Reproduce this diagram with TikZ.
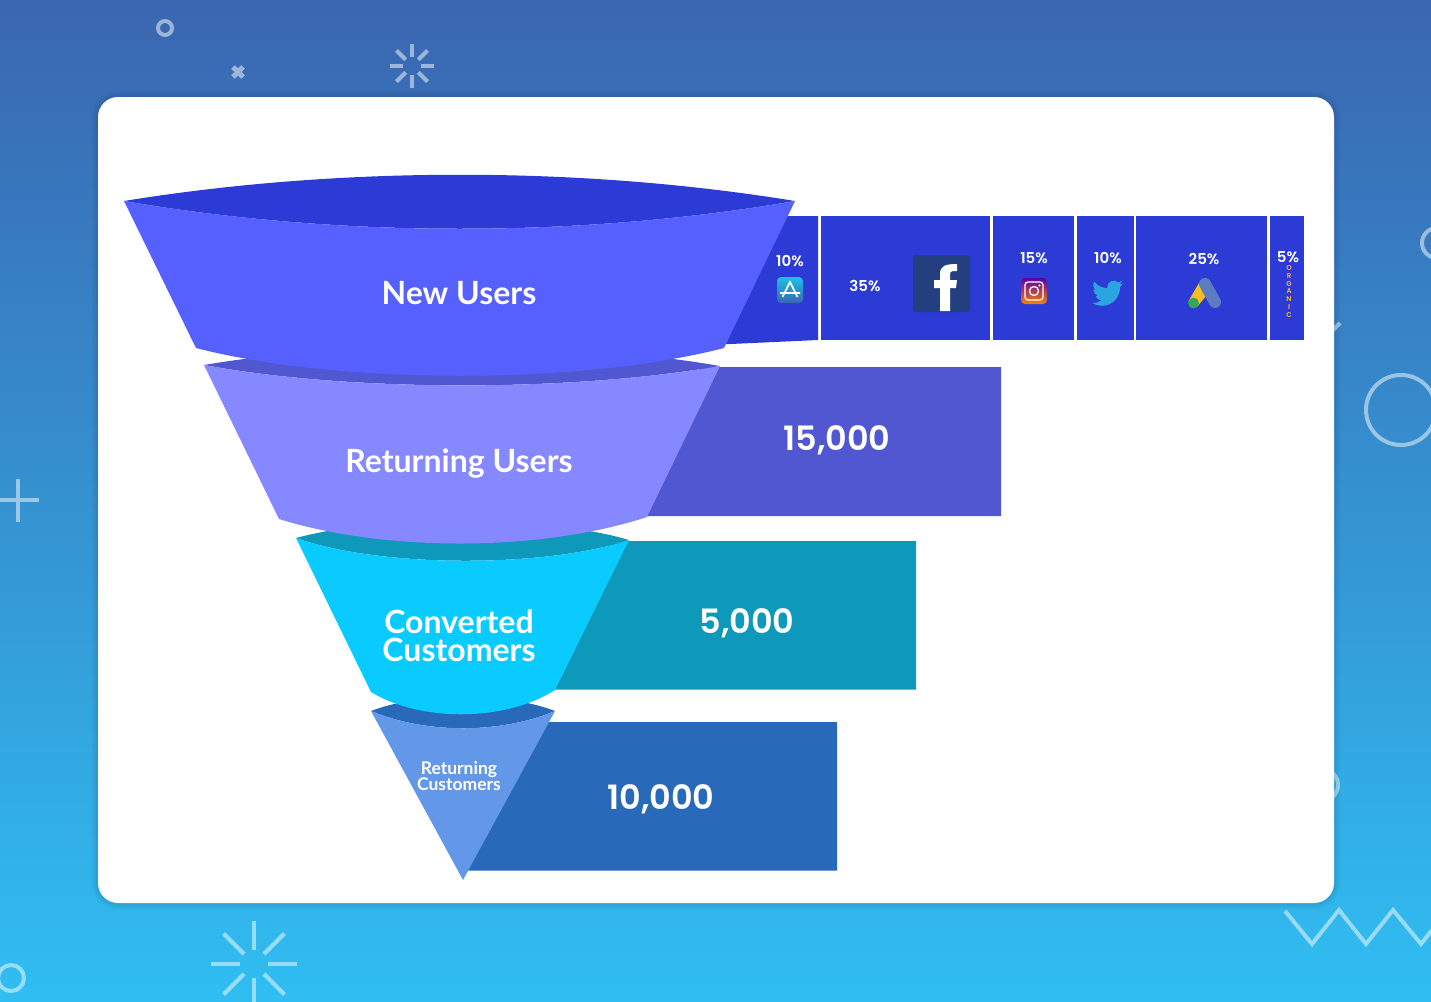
\documentclass[tikz,border=0pt]{standalone}
\usepackage{fontspec}
\setmainfont{Lato}
\newfontfamily\numfont{Poppins SemiBold}
\usetikzlibrary{positioning}
\definecolor{bgtop}{HTML}{3A66B0}
\definecolor{bgbottom}{HTML}{30BEF2}
\definecolor{newdark}{HTML}{2C3BD6}
\definecolor{newfill}{HTML}{5560FF}
\definecolor{retdark}{HTML}{5157D0}
\definecolor{retfill}{HTML}{8688FF}
\definecolor{condark}{HTML}{0E98BA}
\definecolor{confill}{HTML}{0ACBFF}
\definecolor{cusdark}{HTML}{2869BA}
\definecolor{cusfill}{HTML}{6398E8}
\definecolor{fbblue}{HTML}{233F80}
\definecolor{twblue}{HTML}{2AA5E0}
\definecolor{adsblue}{HTML}{5B7DBF}
\definecolor{adsyellow}{HTML}{FBBC1F}
\definecolor{adsgreen}{HTML}{34A853}
\definecolor{orglabel}{HTML}{FFB52E}
\tikzset{
	deco/.style={draw=white, opacity=.5, line width=#1},
	funnellabel/.style={text=white, align=center, font=\bfseries\fontsize{#1}{#1}\selectfont},
	barnum/.style={text=white, font=\numfont\fontsize{33.5}{33.5}\selectfont},
	pct/.style={text=white, font=\numfont\fontsize{15}{15}\selectfont}
}
\begin{document}
\begin{tikzpicture}[x=1pt,y=-1pt]
\useasboundingbox (0,0) rectangle (1431,1001);
\clip (0,0) rectangle (1431,1001);
\shade[top color=bgtop, bottom color=bgbottom] (0,0) rectangle (1431,1001);
% background marks
\draw[deco=4] (165,28) circle (7);
\draw[deco=5] (233,67) -- (243,77) (243,67) -- (233,77);
\foreach \a in {0,45,...,315} {
	\draw[deco=4] (412,66) ++(\a:9) -- ++(\a:13);
	\draw[deco=4] (254,964) ++(\a:14) -- ++(\a:29);
}
\draw[deco=4] (1437,243) circle (15);
\draw[deco=4] (1401,410) circle (35);
\draw[deco=4] (1331,332) -- (1340,323);
\draw[deco=4] (0,500) -- (39,500) (18,479) -- (18,522);
\draw[deco=4] (1322,785) circle (16);
\draw[deco=4] (11,978) circle (13);
\draw[deco=4] (1285,911) -- (1312,944) -- (1339,910) -- (1366,944) -- (1393,910) -- (1421,944) -- (1448,910);
% card
\foreach \w in {12,8,4} {
	\draw[black, opacity=.03, line width=\w] (98,97) [rounded corners=20] rectangle (1334,903);
}
\fill[white, rounded corners=20] (98,97) rectangle (1334,903);
% source bar
\fill[newdark] (780,216) -- (818,216) -- (818,340) -- (720,344.5) -- cycle;
\foreach \l/\r in {821/990,993/1074,1077/1134,1136/1267,1270/1304} {
	\fill[newdark] (\l,216) rectangle (\r,340);
}
% count bars
\fill[retdark] (700,367) -- (1001,367) -- (1001,516) -- (647,516) -- cycle;
\fill[condark] (610,541) -- (916,541) -- (916,689.5) -- (555,689.5) -- cycle;
\fill[cusdark] (530,722) -- (837,722) -- (837,870.5) -- (467,870.5) -- cycle;
% funnel
\fill[cusdark] (371,711) .. controls (420,692) and (506,692) .. (555,711) .. controls (500,734) and (426,734) .. cycle;
\fill[cusfill] (371,711) .. controls (426,734) and (500,734) .. (555,711) -- (463,880) -- cycle;
\fill[condark] (296,538) .. controls (380,515) and (545,515) .. (629,540) .. controls (545,568) and (380,568) .. cycle;
\fill[confill] (296,538) .. controls (380,568) and (545,568) .. (629,540) -- (555,690) .. controls (505,722) and (420,722) .. (371,692) -- cycle;
\fill[retdark] (204,365) .. controls (350,340) and (570,340) .. (720,366) .. controls (570,392) and (350,392) .. cycle;
\fill[retfill] (204,365) .. controls (350,392) and (570,392) .. (720,366) -- (647,517) .. controls (540,552) and (385,552) .. (279,519) -- cycle;
\fill[newdark] (124,201) .. controls (340,166) and (580,166) .. (795,201) .. controls (580,238) and (340,238) .. cycle;
\fill[newfill] (124,201) .. controls (340,238) and (580,238) .. (795,201) -- (724,348) .. controls (580,385) and (340,385) .. (196,348) -- cycle;
% labels
\node[funnellabel=32] (newusers) at (459,293.5) {New Users};
\node[funnellabel=32] (retusers) at (459,464) {Returning Users};
\node[funnellabel=32] (concust) at (459,636) {Converted\\[-4pt]Customers};
\node[funnellabel=17.5] (retcust) at (459,776.5) {Returning\\[-1.5pt]Customers};
\node[barnum] (numret) at (837,440) {15,000};
\node[barnum] (numcon) at (747,623) {5,000};
\node[barnum] (numcus) at (661,799) {10,000};
\node[pct] (pctapp) at (790,261.5) {10\%};
\node[pct] (pctfb) at (865,285.5) {35\%};
\node[pct] (pctig) at (1034,258.5) {15\%};
\node[pct] (pcttw) at (1108,258.5) {10\%};
\node[pct] (pctads) at (1204,258.5) {25\%};
\node[pct] (pctorg) at (1288,257.5) {5\%};
\node[text=orglabel, align=center, font=\numfont\fontsize{7}{7.7}\selectfont] (organic) at (1289,291.5) {O\\R\\G\\A\\N\\I\\C};
% app store icon
\shade[top color=twblue!70!cyan, bottom color=bgtop, rounded corners=4] (777,277) rectangle (803,303);
\draw[white, line width=1.7] (782.5,297) -- (790,282) -- (797.5,297) (780,293) -- (800,293);
% facebook icon
\fill[fbblue, rounded corners=3] (913,255) rectangle (970,312);
\fill[white] (940,311) -- (940,288) -- (934,288) -- (934,280) -- (940,280) -- (940,274) .. controls (940,266) and (945,264) .. (957,264) -- (957,271) -- (953,271) .. controls (950,271) and (950,273) .. (950,275) -- (950,280) -- (957,280) -- (956,288) -- (950,288) -- (950,311) -- cycle;
% instagram icon
\shade[top color=violet!70!blue, middle color=red!70!magenta, bottom color=orange, rounded corners=4] (1021,278) rectangle (1047,304);
\draw[white, line width=1.3, rounded corners=3] (1025,282) rectangle (1043,300);
\draw[white, line width=1.3] (1034,291) circle (4.5);
\fill[white] (1039.5,285.5) circle (1.1);
% twitter icon
\begin{scope}[shift={(1092,277.5)}, x=1.3pt, y=-1.3pt]
\fill[twblue] (23.95,4.57) .. controls (23.05,4.97) and (22.1,5.23) .. (21.13,5.35) .. controls (22.15,4.74) and (22.92,3.77) .. (23.29,2.62) .. controls (22.34,3.18) and (21.29,3.58) .. (20.17,3.81) .. controls (17,0.5) and (10.7,3.4) .. (11.78,8.29) .. controls (7.69,8.1) and (4.07,6.13) .. (1.64,3.16) .. controls (0.3,5.4) and (1,8.3) .. (3.16,9.73) .. controls (2.35,9.7) and (1.6,9.5) .. (0.93,9.12) -- (0.93,9.18) .. controls (0.93,11.5) and (2.6,13.55) .. (4.88,14) .. controls (4.15,14.2) and (3.4,14.23) .. (2.67,14.09) .. controls (3.3,16.1) and (5.15,17.45) .. (7.27,17.5) .. controls (5.5,18.85) and (3.4,19.6) .. (1.17,19.6) .. controls (0.78,19.6) and (0.39,19.58) .. (0,19.54) .. controls (2.2,20.95) and (4.85,21.75) .. (7.56,21.75) .. controls (16.6,21.75) and (21.55,14.25) .. (21.55,7.76) .. controls (21.55,7.55) and (21.55,7.34) .. (21.54,7.13) .. controls (22.5,6.43) and (23.33,5.57) .. (24,4.59) -- cycle;
\end{scope}
% google ads icon
\fill[adsyellow] (1188.5,301) -- (1199,283) -- (1206,296) -- (1197,307) -- cycle;
\draw[adsblue, line width=12, line cap=round] (1205,284) -- (1215,302);
\fill[adsgreen] (1193.5,303) circle (5.5);
\end{tikzpicture}
\end{document}
